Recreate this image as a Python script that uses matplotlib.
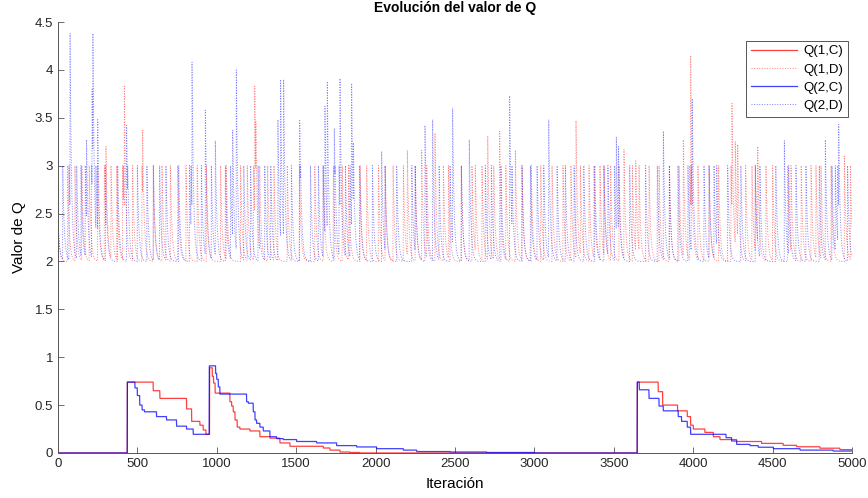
import numpy as np
import matplotlib.pyplot as plt

plt.rcParams['font.family'] = ['Liberation Sans', 'DejaVu Sans']

n_iter = 5000

# Q(1,C) and Q(2,C): step breakpoints (iteration, value)
q1c_iter = [0, 437, 600, 642, 810, 842, 894, 915, 932, 955, 972, 980, 990, 1062, 1083, 1094,
            1104, 1115, 1129, 1146, 1209, 1272, 1335, 1398, 1461, 1671, 1713, 1776, 1839, 1900,
            3648, 3780, 3808, 3902, 3963, 3984, 4001, 4074, 4127, 4169, 4274, 4431, 4567, 4652,
            4798, 4924]
q1c_val = [0.0, 0.74, 0.65, 0.57, 0.46, 0.33, 0.29, 0.24, 0.195, 0.89, 0.80, 0.73, 0.625, 0.625,
           0.535, 0.49, 0.43, 0.345, 0.27, 0.25, 0.23, 0.17, 0.155, 0.105, 0.07, 0.052, 0.03,
           0.01, 0.005, 0.0, 0.74, 0.64, 0.50, 0.44, 0.38, 0.29, 0.25, 0.215, 0.17, 0.14, 0.12,
           0.10, 0.08, 0.065, 0.05, 0.035]

q2c_iter = [0, 437, 485, 500, 515, 530, 545, 621, 684, 747, 810, 852, 953, 993, 1000, 1010,
            1020, 1188, 1199, 1230, 1241, 1251, 1272, 1293, 1335, 1377, 1419, 1503, 1629, 1755,
            1881, 2007, 2175, 2259, 2469, 2700, 3000, 3648, 3661, 3722, 3785, 3812, 3906, 3927,
            3963, 3984, 4207, 4242, 4274, 4358, 4410, 4505, 4673, 4882]
q2c_val = [0.0, 0.74, 0.68, 0.60, 0.50, 0.45, 0.43, 0.38, 0.345, 0.28, 0.25, 0.195, 0.91, 0.83,
           0.77, 0.69, 0.615, 0.535, 0.52, 0.43, 0.345, 0.31, 0.27, 0.23, 0.17, 0.15, 0.14, 0.12,
           0.105, 0.077, 0.063, 0.045, 0.03, 0.015, 0.01, 0.005, 0.0, 0.74, 0.66, 0.57, 0.49,
           0.44, 0.38, 0.33, 0.27, 0.195, 0.16, 0.125, 0.09, 0.077, 0.06, 0.045, 0.03, 0.02]

# Q(1,D): iterations where the value jumps up to 3, plus taller peaks
q1d_jumps = [1, 61, 107, 150, 197, 250, 292, 334, 370, 407, 470, 529, 600, 655, 708, 754, 806,
             877, 935, 1024, 1060, 1150, 1192, 1270, 1320, 1360, 1444, 1520, 1617, 1671, 1734,
             1790, 1829, 1902, 1944, 2018, 2060, 2110, 2175, 2250, 2322, 2427, 2459, 2540, 2607,
             2628, 2670, 2744, 2820, 2922, 2980, 3040, 3111, 3180, 3230, 3290, 3344, 3375, 3413,
             3438, 3480, 3533, 3617, 3659, 3722, 3785, 3850, 3911, 4030, 4100, 4160, 4330, 4370,
             4391, 4458, 4500, 4595, 4616, 4680, 4742, 4773, 4805, 4868, 4990]
q1d_peak_iter = [1, 302, 412, 418, 533, 1232, 1239, 1246, 2200, 2290, 2374, 2706, 2781, 2880,
                 3262, 3564, 3638, 3938, 3978, 3984, 4238, 4244, 4265, 4280, 4406, 4952]
q1d_peak_val = [2.4, 3.2, 3.0, 3.83, 3.37, 3.0, 3.83, 3.46, 3.16, 3.16, 3.34, 3.31, 3.36, 3.16,
                3.47, 3.17, 3.05, 3.27, 3.0, 4.15, 3.0, 3.65, 3.25, 3.22, 3.2, 3.1]

# Q(2,D)
q2d_jumps = [30, 118, 145, 172, 239, 300, 376, 439, 500, 560, 601, 640, 680, 760, 828, 903, 966,
             1054, 1087, 1170, 1213, 1260, 1302, 1340, 1470, 1528, 1590, 1640, 1669, 1745, 1810,
             1839, 1900, 1980, 2060, 2133, 2228, 2249, 2400, 2469, 2540, 2691, 2729, 2790, 2859,
             2922, 2975, 3017, 3059, 3143, 3195, 3250, 3311, 3380, 3438, 3463, 3505, 3600, 3700,
             3774, 3850, 3904, 3967, 4068, 4100, 4131, 4148, 4217, 4300, 4391, 4420, 4520, 4601,
             4647, 4710, 4794, 4874, 4895, 4972]
q2d_peak_iter = [1, 70, 76, 180, 212, 215, 220, 250, 432, 838, 844, 928, 991, 1100, 1123, 1385,
                 1402, 1421, 1522, 1681, 1696, 1740, 1770, 1776, 1849, 1860, 2038, 2311, 2359,
                 2485, 2590, 2844, 3090, 3516, 3529, 3812, 3988, 3994, 4574, 4832, 4910, 4916]
q2d_peak_val = [2.4, 3.0, 4.38, 3.27, 3.0, 3.8, 4.38, 3.48, 3.42, 3.0, 4.08, 3.58, 3.26, 3.37,
                4.0, 3.48, 3.9, 3.9, 3.47, 3.62, 3.88, 3.39, 3.0, 3.91, 3.86, 3.24, 3.15, 3.42,
                3.48, 3.6, 3.27, 3.73, 3.48, 3.3, 3.2, 3.36, 3.0, 3.7, 3.26, 3.27, 3.0, 3.43]


def step_series(iters, vals):
    y = np.zeros(n_iter + 1)
    for k, it in enumerate(iters):
        y[it:] = vals[k]
    return y


def spike_series(jumps, peak_iter, peak_val, base=2.0, decay=0.9):
    events = {it: 3.0 for it in jumps}
    for it, v in zip(peak_iter, peak_val):
        events[it] = v
    y = np.zeros(n_iter + 1)
    for i in range(1, n_iter + 1):
        y[i] = base + (y[i - 1] - base) * decay if y[i - 1] > 0 else 0.0
        if i in events:
            y[i] = max(y[i], events[i])
    return y


x = np.arange(n_iter + 1)
q1c = step_series(q1c_iter, q1c_val)
q2c = step_series(q2c_iter, q2c_val)
q1d = spike_series(q1d_jumps, q1d_peak_iter, q1d_peak_val)
q2d = spike_series(q2d_jumps, q2d_peak_iter, q2d_peak_val)

fig = plt.figure(figsize=(8.68, 4.98), dpi=100)
ax = fig.add_axes([0.0668, 0.0904, 0.9148, 0.8654])

ax.plot(x, q1c, color='#ff0000', lw=0.9, alpha=0.75, label='Q(1,C)')
ax.plot(x, q1d, color='#ff0000', lw=0.7, ls=':', alpha=0.5, label='Q(1,D)')
ax.plot(x, q2c, color='#0000ff', lw=0.9, alpha=0.75, label='Q(2,C)')
ax.plot(x, q2d, color='#0000ff', lw=0.7, ls=':', alpha=0.5, label='Q(2,D)')

ax.set_xlim(0, 5000)
ax.set_ylim(0, 4.5)
ax.set_xticks(np.arange(0, 5001, 500))
ax.set_yticks(np.arange(0, 4.51, 0.5))
ax.set_yticklabels(['0', '0.5', '1', '1.5', '2', '2.5', '3', '3.5', '4', '4.5'])
ax.tick_params(direction='in', length=4, width=0.6, color='#555555', labelsize=9.5,
               labelcolor='#262626')
for side in ['top', 'right']:
    ax.spines[side].set_visible(False)
for side in ['left', 'bottom']:
    ax.spines[side].set_color('#555555')
    ax.spines[side].set_linewidth(0.7)

ax.set_title('Evolución del valor de Q', fontsize=10, fontweight='bold', pad=7)
ax.set_xlabel('Iteración', fontsize=11, labelpad=5)
ax.set_ylabel('Valor de Q', fontsize=11, labelpad=6)

leg = ax.legend(loc='upper right', bbox_to_anchor=(0.998, 0.963), fontsize=9.5, fancybox=False,
                framealpha=1, edgecolor='#555555', handlelength=3.5, borderpad=0.35,
                labelspacing=0.45, handletextpad=0.5, borderaxespad=0.2)
leg.get_frame().set_linewidth(0.7)

fig.savefig('out.png', dpi=100)
